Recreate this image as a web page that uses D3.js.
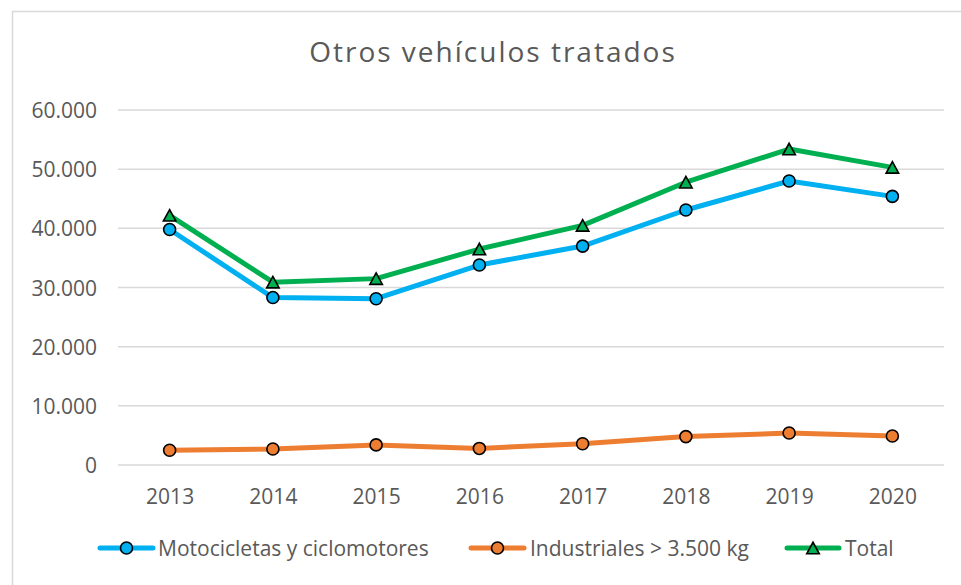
<!DOCTYPE html>
<html>
<head>
<meta charset="utf-8">
<script src="https://cdn.jsdelivr.net/npm/d3@7"></script>
<style>
  html, body { margin: 0; padding: 0; background: #fff; }
  svg { display: block; font-family: "Open Sans", sans-serif; }
</style>
</head>
<body>
<svg id="chart" width="961" height="585"></svg>
<script>
const title = "Otros vehículos tratados";
const years = ["2013", "2014", "2015", "2016", "2017", "2018", "2019", "2020"];
const motos = [39800, 28300, 28100, 33800, 37000, 43100, 48000, 45400];
const industriales = [2500, 2700, 3400, 2800, 3600, 4800, 5400, 4900];
const total = [42200, 30900, 31500, 36500, 40500, 47800, 53400, 50300];
const seriesNames = ["Motocicletas y ciclomotores", "Industriales > 3.500 kg", "Total"];
const yTicks = [0, 10000, 20000, 30000, 40000, 50000, 60000];

(function () {
const series = [
  { name: seriesNames[0], values: motos, color: "#00b0f0", marker: "circle" },
  { name: seriesNames[1], values: industriales, color: "#ed7d31", marker: "circle" },
  { name: seriesNames[2], values: total, color: "#00b050", marker: "triangle" }
];

const svg = d3.select("#chart");
const textColor = "#595959";
const gridColor = "#d9d9d9";

// chart border (cropped at right/bottom)
svg.append("rect")
  .attr("x", 12.5).attr("y", 11.5)
  .attr("width", 1200).attr("height", 1200)
  .attr("fill", "#fff").attr("stroke", gridColor).attr("stroke-width", 1.5);

const plotL = 118, plotR = 944, plotT = 110, plotB = 465;
const x = d3.scalePoint().domain(years).range([plotL, plotR]).padding(0.5);
const y = d3.scaleLinear().domain([0, 60000]).range([plotB, plotT]);

const locale = d3.formatLocale({ decimal: ",", thousands: ".", grouping: [3], currency: ["", "€"] });
const fmt = locale.format(",d");

// title
svg.append("text")
  .attr("x", 493).attr("y", 62)
  .attr("text-anchor", "middle")
  .attr("fill", textColor)
  .attr("font-size", 28)
  .attr("letter-spacing", 2)
  .text(title);

// gridlines
svg.append("g").selectAll("line").data(yTicks).join("line")
  .attr("x1", plotL).attr("x2", plotR)
  .attr("y1", d => y(d)).attr("y2", d => y(d))
  .attr("stroke", gridColor).attr("stroke-width", 1.5);

// y axis labels
const yAxis = svg.append("g")
  .attr("transform", `translate(${plotL},0)`)
  .call(d3.axisLeft(y).tickValues(yTicks).tickFormat(fmt).tickSize(0).tickPadding(21));
yAxis.select(".domain").remove();
yAxis.selectAll("text")
  .attr("fill", textColor).attr("font-size", 21)
  .attr("font-family", "'Open Sans', sans-serif")
  .attr("dy", "0.36em");

// x axis labels
const xAxis = svg.append("g")
  .attr("transform", `translate(0,${plotB})`)
  .call(d3.axisBottom(x).tickSize(0).tickPadding(24));
xAxis.select(".domain").remove();
xAxis.selectAll("text")
  .attr("fill", textColor).attr("font-size", 21)
  .attr("font-family", "'Open Sans', sans-serif");

const tri = (w, h) => `M0,${-h/2}L${w/2},${h/2}L${-w/2},${h/2}Z`;

function drawMarker(g, s, cx, cy) {
  if (s.marker === "circle") {
    g.append("circle").attr("cx", cx).attr("cy", cy).attr("r", 6)
      .attr("fill", s.color).attr("stroke", "#000").attr("stroke-width", 1.6);
  } else {
    g.append("path").attr("d", tri(12.5, 11.5))
      .attr("transform", `translate(${cx},${cy})`)
      .attr("fill", s.color).attr("stroke", "#000").attr("stroke-width", 1.6)
      .attr("stroke-linejoin", "miter");
  }
}

const line = d3.line().x((d, i) => x(years[i])).y(d => y(d));

series.forEach(s => {
  const g = svg.append("g");
  g.append("path")
    .attr("d", line(s.values))
    .attr("fill", "none")
    .attr("stroke", s.color)
    .attr("stroke-width", 5)
    .attr("stroke-linejoin", "round")
    .attr("stroke-linecap", "round");
  s.values.forEach((v, i) => drawMarker(g, s, x(years[i]), y(v)));
});

// legend
const legendY = 548;
const legendItems = [
  { lx1: 100, lx2: 153, tx: 158 },
  { lx1: 471, lx2: 524, tx: 530 },
  { lx1: 787, lx2: 839, tx: 845 }
];
series.forEach((s, i) => {
  const L = legendItems[i];
  const g = svg.append("g");
  g.append("line")
    .attr("x1", L.lx1).attr("x2", L.lx2)
    .attr("y1", legendY).attr("y2", legendY)
    .attr("stroke", s.color).attr("stroke-width", 5).attr("stroke-linecap", "round");
  drawMarker(g, s, (L.lx1 + L.lx2) / 2, legendY);
  g.append("text")
    .attr("x", L.tx).attr("y", legendY + 8)
    .attr("fill", textColor).attr("font-size", 21)
    .text(s.name);
});
})();
</script>
</body>
</html>
